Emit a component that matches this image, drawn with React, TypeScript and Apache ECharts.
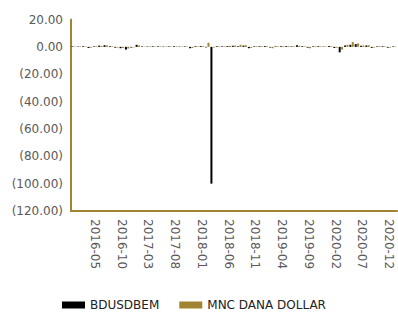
import React, { useEffect, useRef } from "react";
import * as echarts from "echarts";

const months: string[] = [
  "2016-01","2016-02","2016-03","2016-04","2016-05","2016-06","2016-07","2016-08","2016-09","2016-10","2016-11","2016-12",
  "2017-01","2017-02","2017-03","2017-04","2017-05","2017-06","2017-07","2017-08","2017-09","2017-10","2017-11","2017-12",
  "2018-01","2018-02","2018-03","2018-04","2018-05","2018-06","2018-07","2018-08","2018-09","2018-10","2018-11","2018-12",
  "2019-01","2019-02","2019-03","2019-04","2019-05","2019-06","2019-07","2019-08","2019-09","2019-10","2019-11","2019-12",
  "2020-01","2020-02","2020-03","2020-04","2020-05","2020-06","2020-07","2020-08","2020-09","2020-10","2020-11","2020-12",
  "2021-01",
];

const bdusdbem: number[] = [
  0.4, 0.3, 0.5, -0.8, 0.4, 0.9, 1.2, 0.5, -0.6, -1.0, -2.0, -0.5,
  1.5, 0.4, 0.3, 0.5, 0.4, 0.3, 0.4, 0.5, 0.3, 0.4, -1.0, 0.5,
  0.6, -0.4, -100, 0.5, 0.4, 0.6, 0.8, 0.5, 0.9, -1.0, 0.4, 0.5,
  0.6, -0.5, 0.4, 0.5, 0.6, 0.4, 1.2, 0.5, -0.6, 0.4, 0.5, 0.3,
  0.6, -0.8, -4.0, 1.0, 1.5, 2.0, 0.8, 1.0, -0.7, 0.4, 0.5, -0.6,
  0.4,
];

const mncDanaDollar: number[] = [
  0.3, 0.4, 0.3, -0.6, 0.5, 0.7, 1.0, 0.4, -0.5, -0.8, -1.2, -0.4,
  1.0, 0.3, 0.4, 0.3, 0.4, 0.3, 0.3, 0.4, 0.3, 0.3, -0.8, 0.4,
  0.5, 3.0, -0.5, 0.4, 0.5, 0.8, 1.0, 1.5, 1.2, -0.7, 0.5, 0.4,
  0.5, -1.0, 0.4, 0.5, 0.5, 0.4, 0.8, 0.4, -1.0, 0.5, 0.4, 0.3,
  0.5, -0.6, -2.0, 1.5, 3.5, 2.5, 1.0, 1.2, -0.5, 0.5, 0.4, -0.5,
  0.3,
];

const seriesNames: string[] = ["BDUSDBEM", "MNC DANA DOLLAR"];

const GOLD = "#A08431";
const FONT = "DejaVu Sans";

export default function App() {
  const ref = useRef<HTMLDivElement>(null);
  useEffect(() => {
    document.body.style.margin = "0";
    if (!ref.current) return;
    const chart = echarts.init(ref.current, null, { renderer: "svg" });
    chart.setOption({
      animation: false,
      textStyle: { fontFamily: FONT },
      grid: { left: 71, right: 1, top: 19.5, bottom: 102, containLabel: false },
      legend: {
        left: 57,
        top: 294,
        itemWidth: 23,
        itemHeight: 7,
        itemGap: 20,
        icon: "rect",
        textStyle: { fontFamily: FONT, fontSize: 12, color: "#222" },
        data: seriesNames,
      },
      xAxis: {
        type: "category",
        data: months,
        boundaryGap: true,
        axisLine: { show: true, onZero: false, lineStyle: { color: GOLD, width: 2 } },
        axisTick: { show: false },
        axisLabel: {
          interval: (i: number) => i % 5 === 4,
          rotate: -90,
          margin: 8,
          fontFamily: FONT,
          fontSize: 12,
          color: "#595959",
        },
        splitLine: { show: false },
      },
      yAxis: {
        type: "value",
        min: -120,
        max: 20,
        interval: 20,
        axisLine: { show: true, lineStyle: { color: GOLD, width: 2 } },
        axisTick: { show: false },
        splitLine: { show: false },
        axisLabel: {
          margin: 8,
          fontFamily: FONT,
          fontSize: 12,
          color: "#595959",
          formatter: (v: number) => (v < 0 ? `(${Math.abs(v).toFixed(2)})` : v.toFixed(2)),
        },
      },
      series: [
        {
          name: seriesNames[0],
          type: "bar",
          data: bdusdbem,
          barWidth: 2,
          barGap: "20%",
          itemStyle: { color: "#000000" },
        },
        {
          name: seriesNames[1],
          type: "bar",
          data: mncDanaDollar,
          barWidth: 2,
          itemStyle: { color: GOLD },
        },
      ],
    });
    return () => chart.dispose();
  }, []);
  return <div ref={ref} style={{ width: 398, height: 313 }} />;
}
